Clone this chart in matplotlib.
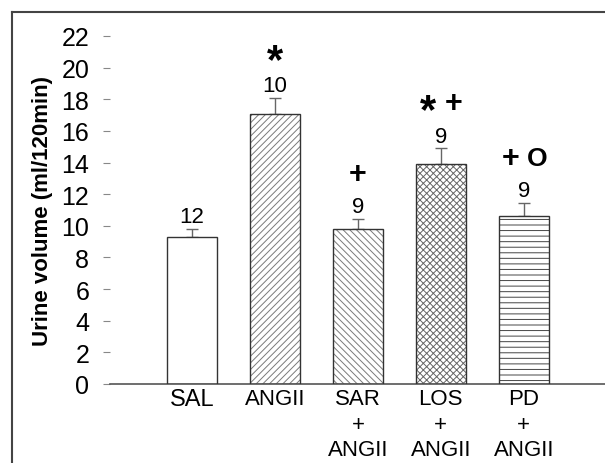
import matplotlib
matplotlib.use("Agg")
import matplotlib.pyplot as plt
from matplotlib.lines import Line2D

plt.rcParams['font.family'] = ['Liberation Sans', 'DejaVu Sans']
plt.rcParams['hatch.linewidth'] = 0.7

# data
groups = ["SAL", "ANGII", "SAR\n+\nANGII", "LOS\n+\nANGII", "PD\n+\nANGII"]
means = [9.3, 17.1, 9.8, 13.9, 10.6]
sems = [0.5, 1.0, 0.65, 1.0, 0.85]
n_rats = ["12", "10", "9", "9", "9"]
signif = [[], ["*"], ["+"], ["*", "+"], ["+", "O"]]
hatches = ["", "/////", "\\\\\\\\\\", "xxxxx", "---"]
hatch_colors = ["#555555", "#7a7a7a", "#7a7a7a", "#666666", "#444444"]
yticks = list(range(0, 23, 2))

# glyph size and vertical nudge (points) so the symbols sit like the original
sym_style = {"*": (30, -6), "+": (22, 0), "O": (19, 0)}

fig = plt.figure(figsize=(6.05, 4.64), dpi=100)
ax = fig.add_axes([110 / 605, 1 - 385 / 464, 495 / 605, 348 / 464])

x = list(range(len(groups)))

# hatched fill first, then the outline on top
ax.bar(x, means, width=0.6, color="white", edgecolor=hatch_colors,
       hatch=hatches, linewidth=0, zorder=2)
ax.bar(x, means, width=0.6, fill=False, edgecolor="#333333",
       linewidth=1.0, zorder=3)
ax.errorbar(x, means, yerr=[[0] * len(x), sems], fmt="none",
            ecolor="#666666", elinewidth=1.0, capsize=4, capthick=1.0,
            zorder=1)

for xi, m, s, n, syms in zip(x, means, sems, n_rats, signif):
    top = m + s
    ax.text(xi, top + 0.1, n, ha="center", va="bottom", fontsize=16)
    for k, sym in enumerate(syms):
        dx = 0 if len(syms) == 1 else (-9.5 if k == 0 else 9.5)
        size, dy = sym_style[sym]
        ax.annotate(sym, (xi, top + 2.85), xytext=(dx, dy),
                    textcoords="offset points", ha="center", va="center",
                    fontsize=size, fontweight="bold", annotation_clip=False)

ax.set_xlim(-0.99, 4.98)
ax.set_ylim(0, 22)
ax.set_yticks(yticks)
ax.set_xticks(x)
ax.set_xticklabels(groups, fontsize=16, linespacing=1.28)
ax.get_xticklabels()[0].set_fontsize(17)
ax.tick_params(axis="y", direction="out", length=5, width=0.8,
               color="#888888", labelsize=18, pad=10)
ax.tick_params(axis="x", length=0, pad=3)

for side in ["left", "top", "right"]:
    ax.spines[side].set_visible(False)
ax.spines["bottom"].set_color("#555555")
ax.spines["bottom"].set_linewidth(1.2)

ax.set_ylabel("Urine volume (ml/120min)", fontsize=16, fontweight="bold",
              labelpad=6)

# outer frame, only its left and top edges are visible in the crop
fig.add_artist(Line2D([12 / 605, 12 / 605], [0, 1 - 13 / 464],
                      transform=fig.transFigure, color="#444444", lw=1.5))
fig.add_artist(Line2D([12 / 605, 1], [1 - 13 / 464, 1 - 13 / 464],
                      transform=fig.transFigure, color="#444444", lw=1.5))

fig.savefig("out.png", dpi=100, facecolor="white")
